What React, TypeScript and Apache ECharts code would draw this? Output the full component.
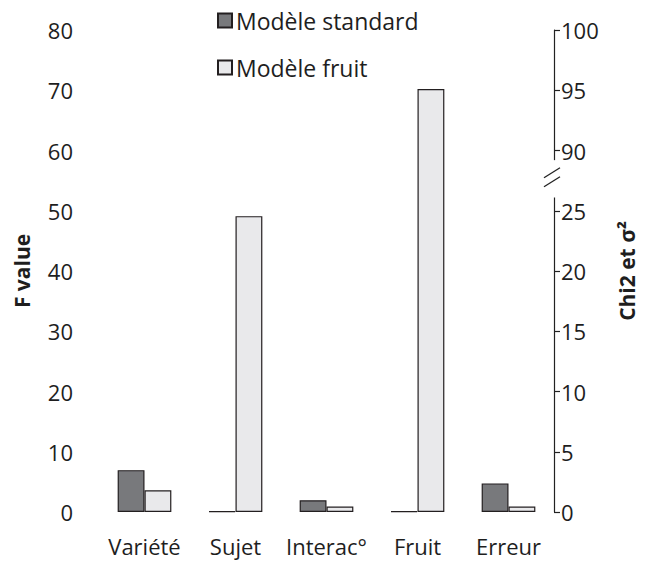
import React, { useEffect, useRef } from "react";
import * as echarts from "echarts";

const categories = ["Variété", "Sujet", "Interac°", "Fruit", "Erreur"];
const standardValues = [6.95, 0.12, 1.95, 0.12, 4.75];
const fruitValues = [3.6, 49.1, 0.9, 70.2, 0.9];
const seriesNames = ["Modèle standard", "Modèle fruit"];
const leftTicks = { min: 0, max: 80, interval: 10 };
const rightTicks = { min: 0, max: 40, interval: 5 };
// right axis: values above the break are shifted by 60 (30 -> 90, 35 -> 95, 40 -> 100)
const rightBreakAt = 25;
const rightBreakShift = 60;

const FONT = "'Open Sans', Lato, sans-serif";
const TEXT = "#1e1e1e";
const FS = 22;

export default function App() {
  const ref = useRef<HTMLDivElement>(null);
  useEffect(() => {
    if (!ref.current) return;
    const chart = echarts.init(ref.current, null, { renderer: "svg" });
    const option: any = {
      animation: false,
      textStyle: { fontFamily: FONT },
      grid: { left: 99, right: 87, top: 30, bottom: 49 },
      legend: {
        orient: "vertical",
        left: 212,
        top: 4,
        itemWidth: 14,
        itemHeight: 14,
        itemGap: 24,
        icon: "rect",
        textStyle: { fontSize: FS + 1, color: TEXT, fontFamily: FONT, lineHeight: 23, padding: [0, 0, 0, -1] },
        data: seriesNames,
      },
      xAxis: {
        type: "category",
        data: categories,
        axisLine: { show: false },
        axisTick: { show: false },
        axisLabel: { fontSize: FS, color: TEXT, margin: 24, fontFamily: FONT, interval: 0, lineHeight: 20 },
      },
      yAxis: [
        {
          type: "value",
          ...leftTicks,
          name: "F value",
          nameLocation: "middle",
          nameGap: 67,
          nameRotate: 90,
          nameTextStyle: { fontSize: FS - 1, fontWeight: "bold", color: TEXT, fontFamily: FONT },
          axisLine: { show: false },
          axisTick: { show: false },
          splitLine: { show: false },
          axisLabel: { fontSize: FS, color: TEXT, margin: 26, fontFamily: FONT },
        },
        {
          type: "value",
          ...rightTicks,
          position: "right",
          name: "Chi2 et σ²",
          nameLocation: "middle",
          nameGap: 62,
          nameRotate: 90,
          nameTextStyle: { fontSize: FS - 1, fontWeight: "bold", color: TEXT, fontFamily: FONT },
          axisLine: { show: true, lineStyle: { color: "#222", width: 1.2 } },
          axisTick: { show: true, inside: false, length: 6, lineStyle: { color: "#222", width: 1.2 } },
          splitLine: { show: false },
          axisLabel: {
            fontSize: FS,
            color: TEXT,
            margin: 7,
            fontFamily: FONT,
            formatter: (v: number) => String(v > rightBreakAt ? v + rightBreakShift : v),
          },
        },
      ],
      series: [
        {
          name: seriesNames[0],
          type: "bar",
          data: standardValues,
          barGap: "0%",
          barCategoryGap: "41%",
          itemStyle: { color: "#78797c", borderColor: "#231f20", borderWidth: 1.2 },
        },
        {
          name: seriesNames[1],
          type: "bar",
          data: fruitValues,
          barGap: "0%",
          barCategoryGap: "41%",
          itemStyle: { color: "#e9e9eb", borderColor: "#231f20", borderWidth: 1.2 },
        },
      ],
    };
    chart.setOption(option);

    const rect = (chart.getModel() as any).getComponent("grid").coordinateSystem.getRect();
    const axisX = rect.x + rect.width;
    const yTop = chart.convertToPixel({ yAxisIndex: 1 }, 29.2) as number;
    const yBot = chart.convertToPixel({ yAxisIndex: 1 }, 26.1) as number;
    const yMid = (yTop + yBot) / 2;
    chart.setOption({
      graphic: [
        {
          type: "rect",
          shape: { x: axisX - 4, y: yTop, width: 8, height: yBot - yTop },
          style: { fill: "#fff" },
          z: 100,
        },
        {
          type: "line",
          shape: { x1: axisX - 10, y1: yMid - 1, x2: axisX + 6, y2: yMid - 11 },
          style: { stroke: "#222", lineWidth: 1.3 },
          z: 101,
        },
        {
          type: "line",
          shape: { x1: axisX - 10, y1: yMid + 8, x2: axisX + 6, y2: yMid - 2 },
          style: { stroke: "#222", lineWidth: 1.3 },
          z: 101,
        },
      ],
    });
    return () => chart.dispose();
  }, []);
  return (
    <div
      ref={ref}
      style={{ position: "fixed", left: 0, top: 0, width: 645, height: 561, background: "#fff" }}
    />
  );
}
